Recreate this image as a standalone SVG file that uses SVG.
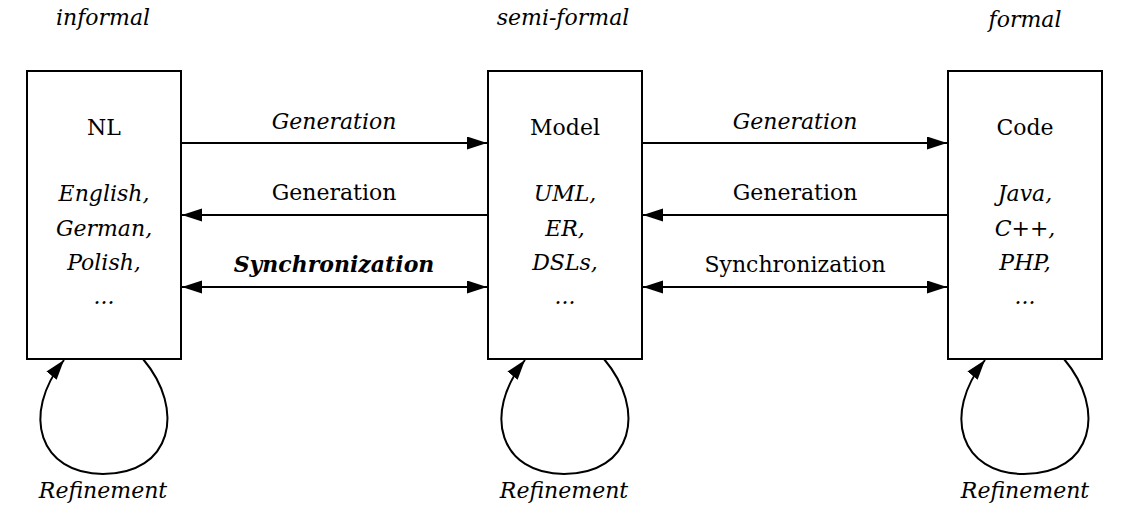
<svg xmlns="http://www.w3.org/2000/svg" width="1129" height="524" viewBox="0 0 1129 524">
<style>
text{font-family:"DejaVu Serif","Liberation Serif",serif;font-size:22px;fill:#000;text-anchor:middle}
.it{font-style:italic}
.b{font-weight:bold;font-style:italic}
.box{fill:#fff;stroke:#000;stroke-width:2}
.ln{fill:none;stroke:#000;stroke-width:2}
</style>
<defs>
<marker id="ah" markerUnits="userSpaceOnUse" markerWidth="21" markerHeight="14" refX="20" refY="6.5" orient="auto-start-reverse">
<path d="M0,0 L20,6.5 L0,13 z" fill="#000"/>
</marker>
</defs>
<text class="it" x="103" y="25">informal</text>
<text class="it" x="563" y="25">semi-formal</text>
<text class="it" x="1025" y="27">formal</text>
<g id="nl">
<rect class="box" x="27" y="71" width="154" height="288"/>
<text x="104" y="135">NL</text>
<text class="it" x="104" y="201">English,</text>
<text class="it" x="104" y="236">German,</text>
<text class="it" x="104" y="270">Polish,</text>
<text class="it" x="104" y="304">...</text>
</g>
<g id="model">
<rect class="box" x="488" y="71" width="154" height="288"/>
<text x="565" y="135">Model</text>
<text class="it" x="565" y="201">UML,</text>
<text class="it" x="565" y="236">ER,</text>
<text class="it" x="565" y="270">DSLs,</text>
<text class="it" x="565" y="304">...</text>
</g>
<g id="code">
<rect class="box" x="948" y="71" width="154" height="288"/>
<text x="1025" y="135">Code</text>
<text class="it" x="1025" y="201">Java,</text>
<text class="it" x="1025" y="236">C++,</text>
<text class="it" x="1025" y="270">PHP,</text>
<text class="it" x="1025" y="304">...</text>
</g>
<g id="connectors">
<path class="ln" d="M181,143 H487" marker-end="url(#ah)"/>
<path class="ln" d="M487,215 H182" marker-end="url(#ah)"/>
<path class="ln" d="M182,287 H487" marker-start="url(#ah)" marker-end="url(#ah)"/>
<path class="ln" d="M642,143 H947" marker-end="url(#ah)"/>
<path class="ln" d="M947,215 H643" marker-end="url(#ah)"/>
<path class="ln" d="M643,287 H947" marker-start="url(#ah)" marker-end="url(#ah)"/>
<path class="ln" d="M143,359 C186,410 172,474 103,474 C40,474 20,415 64,360" marker-end="url(#ah)"/>
<path class="ln" d="M604,359 C647,410 633,474 564,474 C501,474 481,415 525,360" marker-end="url(#ah)"/>
<path class="ln" d="M1064,359 C1107,410 1093,474 1024,474 C961,474 941,415 985,360" marker-end="url(#ah)"/>
</g>
<g id="labels">
<text class="it" x="334" y="129">Generation</text>
<text x="334" y="200">Generation</text>
<text class="b" x="334" y="272">Synchronization</text>
<text class="it" x="795" y="129">Generation</text>
<text x="795" y="200">Generation</text>
<text x="795" y="272">Synchronization</text>
<text class="it" x="103" y="498">Refinement</text>
<text class="it" x="564" y="498">Refinement</text>
<text class="it" x="1025" y="498">Refinement</text>
</g>
</svg>
